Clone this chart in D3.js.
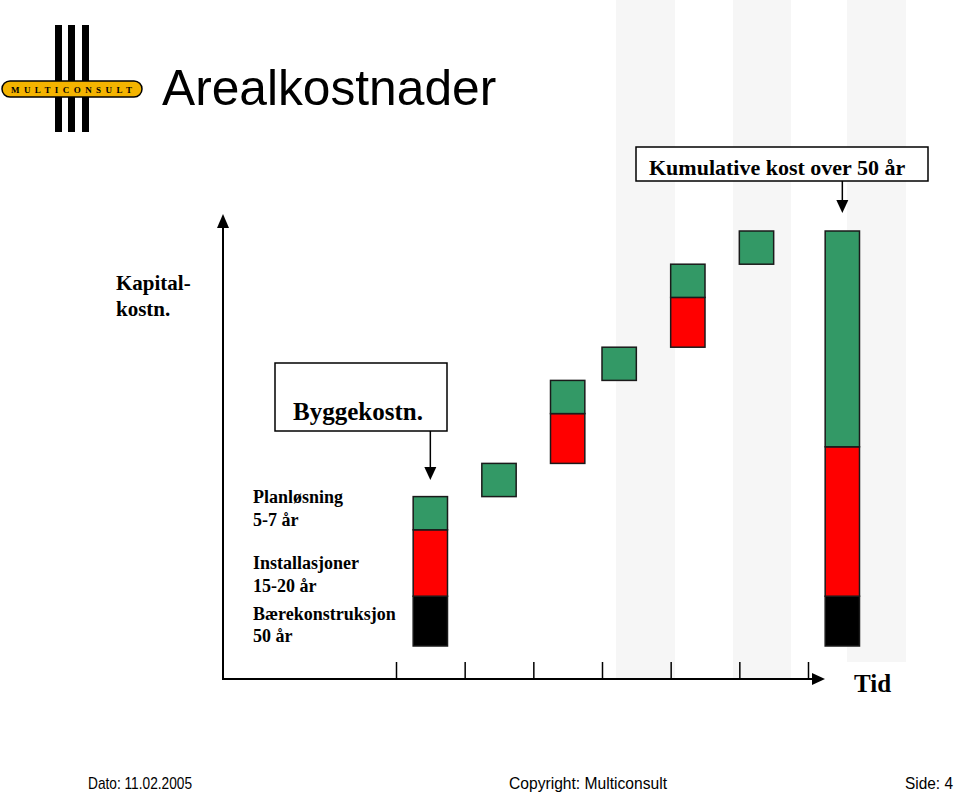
<!DOCTYPE html>
<html>
<head>
<meta charset="utf-8">
<script src="https://cdn.jsdelivr.net/npm/d3@7"></script>
<style>
  html, body { margin: 0; padding: 0; background: #fff; }
  svg { display: block; }
</style>
</head>
<body>
<svg id="chart" width="960" height="792"></svg>
<script>
// ---- data ----
const periods = ["Bygging", "Periode 1", "Periode 2", "Periode 3", "Periode 4", "Periode 5", "Kumulativ"];
const timePos = [0.5, 1.5, 2.5, 3.25, 4.25, 5.25, 6.5];          // position on time axis (tick units)
const isTotal = [false, false, false, false, false, false, true];
const baereValues = [3, 0, 0, 0, 0, 0, 3];        // Bærekonstruksjon 50 år
const installValues = [4, 0, 3, 0, 3, 0, 9];      // Installasjoner 15-20 år
const planValues = [2, 2, 2, 2, 2, 2, 13];        // Planløsning 5-7 år
const timeTicks = [0, 1, 2, 3, 4, 5, 6];
const seriesNames = ["Bærekonstruksjon", "Installasjoner", "Planløsning"];
const seriesColors = ["#000000", "#ff0000", "#339966"];

const svg = d3.select("#chart");

// ---- background stripes (slide template) ----
const stripes = [[616, 675, 680], [733, 791, 680], [847, 906, 662]];
svg.selectAll("rect.stripe").data(stripes).join("rect")
  .attr("x", d => d[0]).attr("y", 0)
  .attr("width", d => d[1] - d[0]).attr("height", d => d[2])
  .attr("fill", "#f6f6f6");

// ---- logo ----
const logo = svg.append("g");
[55, 68, 82].forEach(x => logo.append("rect").attr("x", x).attr("y", 25).attr("width", 7).attr("height", 107).attr("fill", "#000"));
logo.append("rect").attr("x", 2).attr("y", 81).attr("width", 140).attr("height", 16).attr("rx", 8)
  .attr("fill", "#f4b400").attr("stroke", "#000").attr("stroke-width", 1.5);
logo.append("text").attr("x", 11).attr("y", 93).attr("textLength", 121).attr("lengthAdjust", "spacing")
  .attr("font-family", "Liberation Serif, serif").attr("font-weight", "bold").attr("font-size", 9)
  .attr("fill", "#000").text("MULTICONSULT");

// ---- title ----
svg.append("text").attr("x", 162).attr("y", 105)
  .attr("font-family", "Liberation Sans, Arial, sans-serif").attr("font-size", 49.7)
  .attr("fill", "#000").text("Arealkostnader");

// ---- scales ----
const x = d3.scaleLinear().domain([0, 6]).range([396, 808]);
const y = d3.scaleLinear().domain([0, 25]).range([646, 231]);
const barW = x(0.5) - x(0);

// ---- stacked waterfall ----
let running = 0;
const segs = [];
periods.forEach((p, i) => {
  const vals = [baereValues[i], installValues[i], planValues[i]];
  let base = isTotal[i] ? 0 : running;
  let cur = base;
  vals.forEach((v, s) => {
    if (v > 0) { segs.push({ i, s, y0: cur, y1: cur + v }); cur += v; }
  });
  if (!isTotal[i]) running = cur;
});

svg.append("g").selectAll("rect").data(segs).join("rect")
  .attr("x", d => x(timePos[d.i]) - barW / 2)
  .attr("y", d => y(d.y1))
  .attr("width", barW)
  .attr("height", d => y(d.y0) - y(d.y1))
  .attr("fill", d => seriesColors[d.s])
  .attr("stroke", "#1a1a1a").attr("stroke-width", 1.5);

// ---- axes ----
const axisY = 679;
const axisG = svg.append("g").attr("transform", `translate(0,${axisY})`)
  .call(d3.axisTop(x).tickValues(timeTicks).tickSize(17).tickFormat(""));
axisG.select(".domain").remove();
axisG.selectAll(".tick line").attr("stroke", "#000").attr("stroke-width", 1.5);

svg.append("line").attr("x1", 223).attr("x2", 814).attr("y1", axisY).attr("y2", axisY)
  .attr("stroke", "#000").attr("stroke-width", 2);
svg.append("path").attr("d", `M825,${axisY} L812,${axisY - 6} L812,${axisY + 6} Z`).attr("fill", "#000");

svg.append("line").attr("x1", 223).attr("x2", 223).attr("y1", axisY + 1).attr("y2", 226)
  .attr("stroke", "#000").attr("stroke-width", 2);
svg.append("path").attr("d", "M223,214 L217,228 L229,228 Z").attr("fill", "#000");

const serif = "Liberation Serif, Times New Roman, serif";
svg.append("text").attr("x", 854).attr("y", 692).attr("font-family", serif).attr("font-weight", "bold")
  .attr("font-size", 25).text("Tid");

// y label
svg.append("text").attr("font-family", serif).attr("font-weight", "bold").attr("font-size", 21)
  .selectAll("tspan").data(["Kapital-", "kostn."]).join("tspan")
  .attr("x", 116).attr("y", (d, i) => 290 + i * 26).text(d => d);

// legend labels beside first bar
const legendLines = [
  ["Planløsning", 503], ["5-7 år", 526],
  ["Installasjoner", 569], ["15-20 år", 592],
  ["Bærekonstruksjon", 620], ["50 år", 642]
];
svg.append("g").selectAll("text").data(legendLines).join("text")
  .attr("x", 253).attr("y", d => d[1])
  .attr("font-family", serif).attr("font-weight", "bold").attr("font-size", 18)
  .text(d => d[0]);

// ---- callout boxes ----
function callout(bx, by, bw, bh, label, tx, ty, fs, ax, ay) {
  svg.append("rect").attr("x", bx).attr("y", by).attr("width", bw).attr("height", bh)
    .attr("fill", "#fff").attr("stroke", "#000").attr("stroke-width", 1.5);
  svg.append("text").attr("x", tx).attr("y", ty).attr("font-family", serif).attr("font-weight", "bold")
    .attr("font-size", fs).text(label);
  svg.append("line").attr("x1", ax).attr("x2", ax).attr("y1", by + bh).attr("y2", ay - 12)
    .attr("stroke", "#000").attr("stroke-width", 1.5);
  svg.append("path").attr("d", `M${ax},${ay} L${ax - 6},${ay - 13} L${ax + 6},${ay - 13} Z`).attr("fill", "#000");
}
callout(275, 363, 172, 68, "Byggekostn.", 293, 420, 25, x(timePos[0]), 480);
callout(636, 147, 292, 34, "Kumulative kost over 50 år", 649, 175, 22, x(timePos[6]), 213);

// ---- footer ----
const sans = "Liberation Sans, Arial, sans-serif";
const footer = [["Dato: 11.02.2005", 88, 104], ["Copyright: Multiconsult", 509, 158], ["Side: 4", 905, 48]];
svg.append("g").selectAll("text").data(footer).join("text")
  .attr("x", d => d[1]).attr("y", 789).attr("textLength", d => d[2]).attr("lengthAdjust", "spacingAndGlyphs")
  .attr("font-family", sans).attr("font-size", 17).text(d => d[0]);
</script>
</body>
</html>
